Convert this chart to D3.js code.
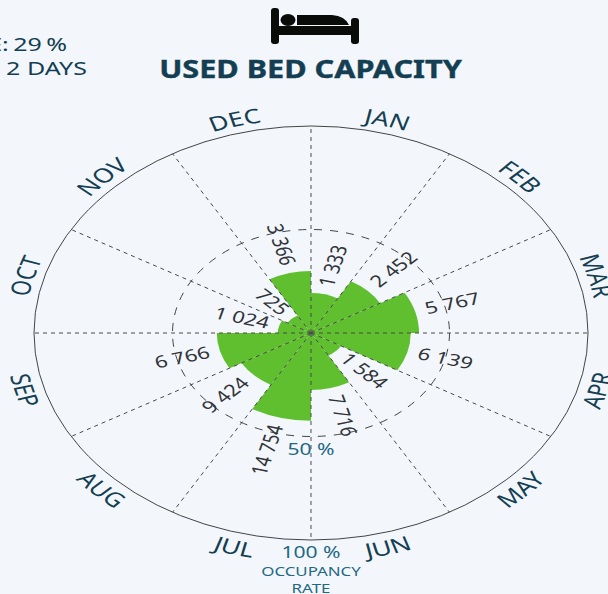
<!DOCTYPE html>
<html>
<head>
<meta charset="utf-8">
<script src="https://cdn.jsdelivr.net/npm/d3@7"></script>
<style>
  html, body { margin: 0; padding: 0; background: #f3f7fc; overflow: hidden; }
  text { font-family: "Noto Sans", sans-serif; }
  .month { font-size: 20px; fill: #143f53; }
  .value { font-size: 16.5px; fill: #303438; }
  .rate { fill: #1f6783; }
</style>
</head>
<body>
<svg id="chart" width="608" height="594"></svg>
<script>
const months = ['JAN', 'FEB', 'MAR', 'APR', 'MAY', 'JUN', 'JUL', 'AUG', 'SEP', 'OCT', 'NOV', 'DEC'];
const occupancy = [19.3, 28.8, 39, 36, 12.5, 27.5, 42.4, 29, 34, 12, 9.8, 30];
const patients = ['1 333', '2 452', '5 767', '6 139', '1 584', '7 716', '14 754', '9 424', '6 766', '1 024', '725', '3 366'];
const rateTicks = [50, 100];

const svg = d3.select('#chart');
const centerX = 311, centerY = 333;
const radius = 207;
const stretch = 277 / 207;   // the whole polar chart is squeezed vertically

const rScale = d3.scaleLinear().domain([0, 100]).range([0, radius]);
const angleScale = d3.scaleBand().domain(months).range([0, 2 * Math.PI]);
const deg = a => a * 180 / Math.PI;

const chart = svg.append('g')
    .attr('transform', `translate(${centerX},${centerY}) scale(${stretch},1)`);

// Wedges
const arc = d3.arc().innerRadius(0);
chart.selectAll('.wedge')
    .data(months)
  .join('path')
    .attr('class', 'wedge')
    .attr('fill', '#5fbf2f')
    .attr('d', (d, i) => arc({
      outerRadius: rScale(occupancy[i]),
      startAngle: angleScale(d),
      endAngle: angleScale(d) + angleScale.bandwidth()
    }));

// Spokes
chart.selectAll('.spoke')
    .data(months)
  .join('line')
    .attr('class', 'spoke')
    .attr('x1', 0).attr('y1', 0)
    .attr('x2', d => rScale(100) * Math.sin(angleScale(d)))
    .attr('y2', d => -rScale(100) * Math.cos(angleScale(d)))
    .attr('stroke', '#4a4a4a')
    .attr('stroke-dasharray', '4 4')
    .attr('vector-effect', 'non-scaling-stroke');

// Rings
chart.selectAll('.ring')
    .data(rateTicks)
  .join('circle')
    .attr('class', 'ring')
    .attr('r', d => rScale(d))
    .attr('fill', 'none')
    .attr('stroke', '#444')
    .attr('stroke-dasharray', d => d === 100 ? null : '8 8')
    .attr('vector-effect', 'non-scaling-stroke');

// Value labels, running along the middle of each wedge
chart.selectAll('.value')
    .data(months)
  .join('text')
    .attr('class', 'value')
    .attr('dominant-baseline', 'middle')
    .attr('text-anchor', d => angleScale(d) < Math.PI ? 'start' : 'end')
    .attr('transform', (d, i) => {
      const mid = deg(angleScale(d) + angleScale.bandwidth() / 2);
      const r = rScale(occupancy[i]) + 8;
      const rot = mid < 180 ? mid - 90 : mid + 90;
      const a = mid * Math.PI / 180;
      return `translate(${r * Math.sin(a)},${-r * Math.cos(a)}) rotate(${rot})`;
    })
    .text((d, i) => patients[i]);

// Month labels on curved paths, flipped for the bottom half
const defs = svg.append('defs');
const topPath = 'M' + (-214) + ',0 A214,214 0 0 1 214,0';
const bottomPath = 'M' + (-229) + ',0 A229,229 0 0 0 229,0';
defs.append('path').attr('id', 'top-arc').attr('d', topPath);
defs.append('path').attr('id', 'bottom-arc').attr('d', bottomPath);

chart.selectAll('.month')
    .data(months)
  .join('text')
    .attr('class', 'month')
    .attr('text-anchor', 'middle')
    .append('textPath')
    .attr('href', d => angleScale(d) > Math.PI / 2 - 0.01 && angleScale(d) < 3 * Math.PI / 2 - 0.01 ? '#bottom-arc' : '#top-arc')
    .attr('startOffset', d => {
      const mid = deg(angleScale(d) + angleScale.bandwidth() / 2);
      if (mid > 90 && mid < 270) return ((270 - mid) / 180 * 100) + '%';
      return (((mid + 90) % 360) / 180 * 100) + '%';
    })
    .text(d => d);

// Rate tick labels sit below the rings
svg.selectAll('.rate-tick')
    .data(rateTicks)
  .join('text')
    .attr('class', 'rate rate-tick')
    .attr('text-anchor', 'middle')
    .attr('font-size', 15.5)
    .attr('transform', d => `translate(${centerX},${centerY + rScale(d) + 18}) scale(1.36,1)`)
    .text(d => d + ' %');

const axisName = ['OCCUPANCY', 'RATE'];
svg.selectAll('.axis-name')
    .data(axisName)
  .join('text')
    .attr('class', 'rate axis-name')
    .attr('text-anchor', 'middle')
    .attr('font-size', 12.5)
    .attr('transform', (d, i) => `translate(${centerX},${576 + i * 17}) scale(1.35,1)`)
    .text(d => d);

// Title
svg.append('text')
    .attr('text-anchor', 'middle')
    .attr('transform', 'translate(310.5,78) scale(1.225,1)')
    .attr('font-size', 25)
    .attr('font-weight', 700)
    .attr('stroke', '#143f53')
    .attr('stroke-width', 0.4)
    .attr('fill', '#143f53')
    .text('USED BED CAPACITY');

// Side notes, cut off by the left edge in the source
const notes = ['E: 29 %', '2 DAYS'];
svg.selectAll('.note')
    .data(notes)
  .join('text')
    .attr('class', 'note')
    .attr('text-anchor', 'end')
    .attr('font-size', 18)
    .attr('fill', '#143f53')
    .attr('word-spacing', (d, i) => i === 0 ? -1.5 : 0)
    .attr('transform', (d, i) => `translate(${i === 0 ? 67 : 87},${i === 0 ? 51 : 75}) scale(1.39,1)`)
    .text(d => d);

// Bed icon
const bed = svg.append('g').attr('fill', '#0a0c0a');
bed.append('rect').attr('x', 271).attr('y', 8).attr('width', 8).attr('height', 36).attr('rx', 3);
bed.append('rect').attr('x', 351).attr('y', 18).attr('width', 8).attr('height', 26).attr('rx', 3);
bed.append('rect').attr('x', 275).attr('y', 26).attr('width', 80).attr('height', 9);
bed.append('ellipse').attr('cx', 288).attr('cy', 20).attr('rx', 7.5).attr('ry', 6);
bed.append('path').attr('d', 'M297,15 L332,15 Q345,16 349,25 L297,25 Z');
</script>
</body>
</html>
